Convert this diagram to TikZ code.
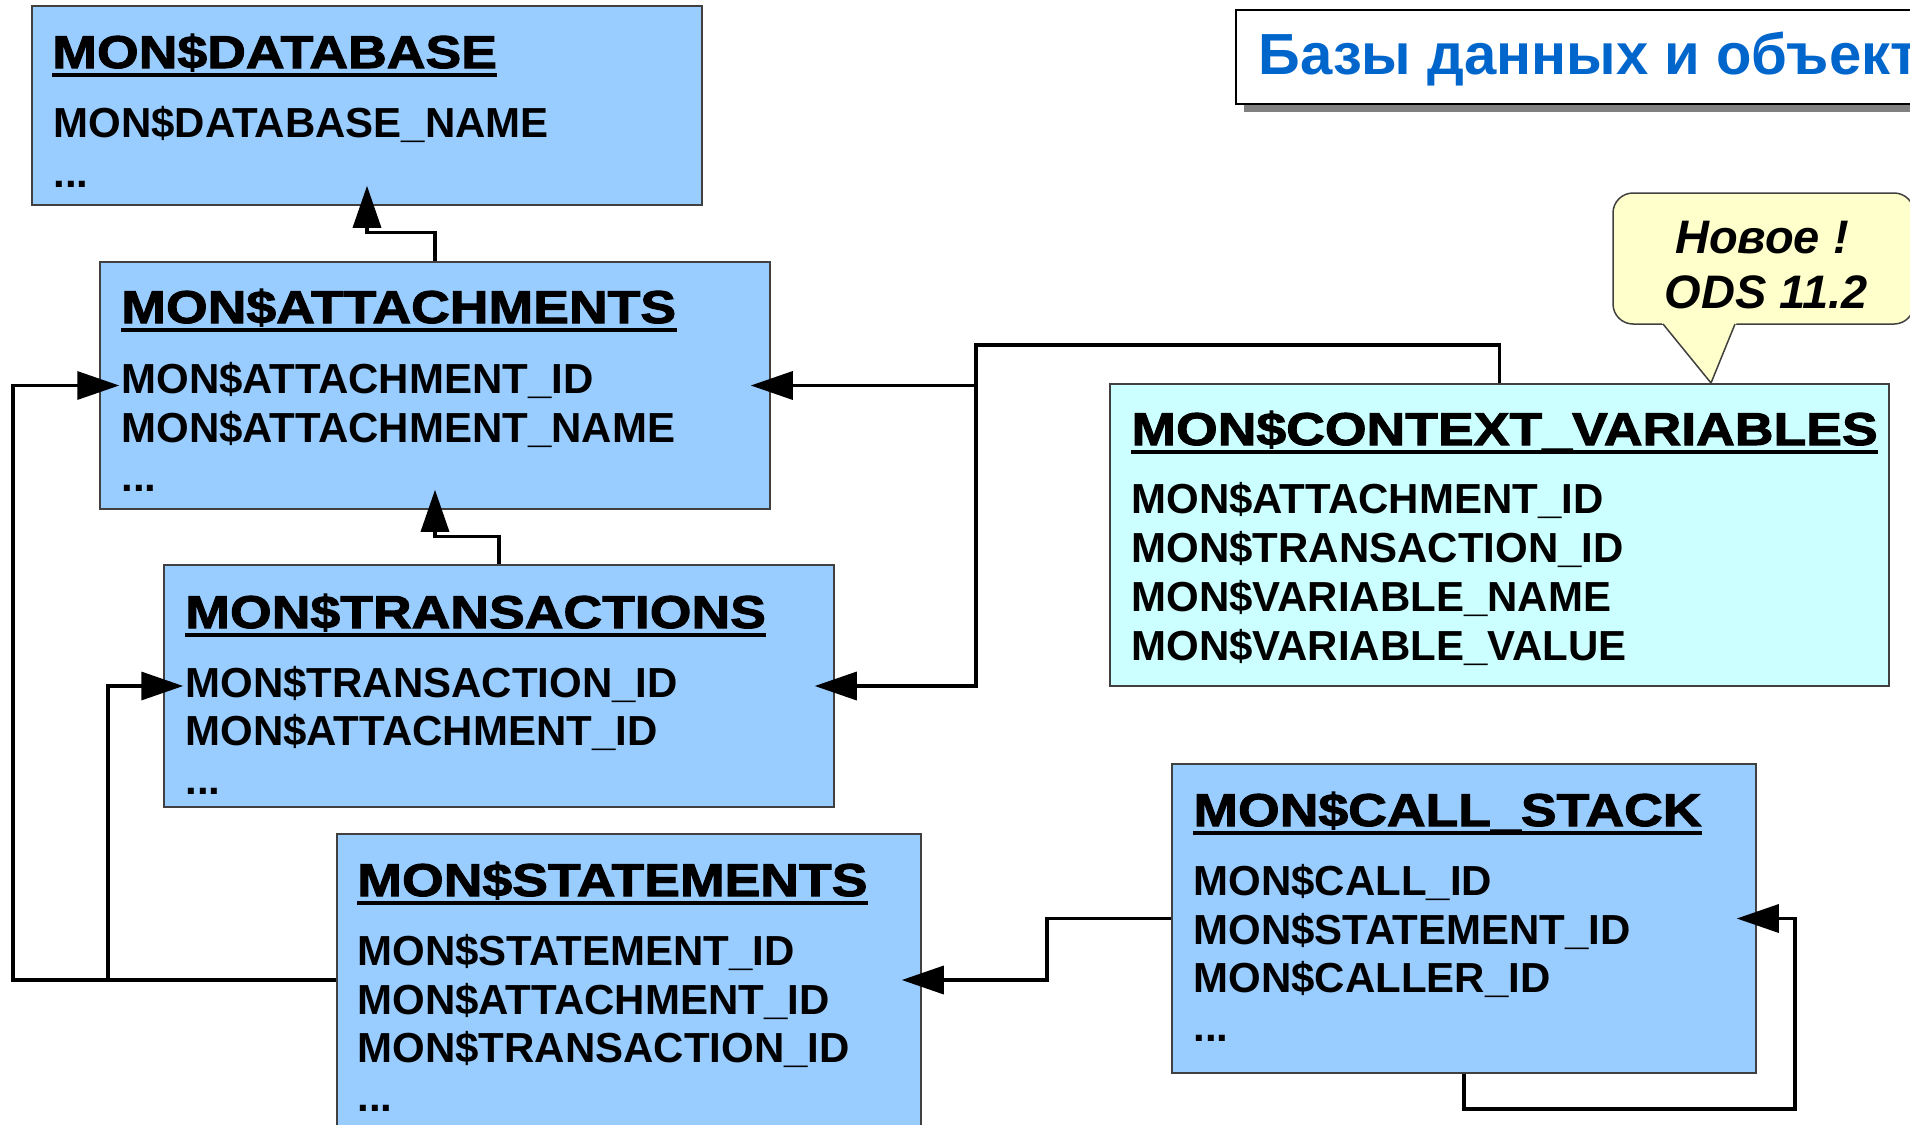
\documentclass[tikz,border=0pt]{standalone}
\usepackage{fontspec}
\setmainfont{Liberation Sans}
\newfontfamily\ttlfont{Liberation Sans}[FakeStretch=1.165,FakeBold=2.2]
\usetikzlibrary{arrows.meta}
\definecolor{boxblue}{HTML}{99CCFF}
\definecolor{boxcyan}{HTML}{CCFFFF}
\definecolor{callfill}{HTML}{FFFFCC}
\definecolor{bannerblue}{HTML}{0066CC}
\definecolor{shadowgray}{HTML}{808080}
\definecolor{edgegray}{HTML}{404040}
\tikzset{
  tbl/.style={draw=edgegray, line width=0.75pt, fill=boxblue, inner sep=0pt},
  ttl/.style={anchor=base west, inner sep=0pt, font=\ttlfont\bfseries\fontsize{23}{27}\selectfont},
  fld/.style={anchor=base west, inner sep=0pt, font=\bfseries\fontsize{21}{25}\selectfont},
  conn/.style={line width=1.7pt, -{Triangle[length=21pt,width=14pt]}, shorten >=-10pt},
  uline/.style={line width=1.6pt},
  calltext/.style={anchor=base, inner sep=0pt, font=\bfseries\itshape\fontsize{23.5}{27}\selectfont},
}
\newcommand\tbltitle[4]{%
  \node[ttl] (#1) at (#2,#3) {#4};
  \draw[uline] ([yshift=-3.5pt]#1.base west) -- ([yshift=-3.5pt]#1.base east);}
\begin{document}
\begin{tikzpicture}[x=0.5pt,y=-0.5pt]
\useasboundingbox (0,0) rectangle (1910,1124);
\begin{scope}
\clip (0,0) rectangle (1910,1124);
% banner
\fill[shadowgray] (1244,18) rectangle (1940,112);
\draw[line width=0.75pt, fill=white] (1236,10) rectangle (1932,104);
\node[anchor=base west, inner sep=0pt, text=bannerblue, font=\bfseries\fontsize{29}{34}\selectfont] (ban) at (1258,74) {Базы данных и объект};
% callout
\draw[draw=edgegray, line width=0.75pt, fill=callfill, rounded corners=10pt] (1613,193) rectangle (1914,324);
\fill[callfill] (1661,322) -- (1737,322) -- (1711,383) -- cycle;
\draw[edgegray, line width=0.75pt] (1663,324) -- (1711,383) -- (1735,324);
\node[calltext] (new1) at (1762,253) {Новое !};
\node[calltext] (new2) at (1766,308) {ODS 11.2};
% tables
\node[tbl, minimum width=335pt, minimum height=99.5pt] (db) at (367,105.5) {};
\node[tbl, minimum width=335pt, minimum height=123.5pt] (att) at (435,385.5) {};
\node[tbl, minimum width=335pt, minimum height=121pt] (trans) at (499,686) {};
\node[tbl, minimum width=292pt, minimum height=146pt] (stmt) at (629,980) {};
\node[tbl, fill=boxcyan, minimum width=389.5pt, minimum height=151pt] (cv) at (1499.5,535) {};
\node[tbl, minimum width=292pt, minimum height=154.5pt] (cs) at (1464,918.5) {};
% texts
\tbltitle{dbt}{52}{68}{MON\$DATABASE}
\node[fld] (db1) at (53,137) {MON\$DATABASE\_NAME};
\node[fld] (db2) at (53,187) {...};
\tbltitle{attt}{121}{323}{MON\$ATTACHMENTS}
\node[fld] (att1) at (121,393) {MON\$ATTACHMENT\_ID};
\node[fld] (att2) at (121,442) {MON\$ATTACHMENT\_NAME};
\node[fld] (att3) at (121,491) {...};
\tbltitle{trt}{185}{628}{MON\$TRANSACTIONS}
\node[fld] (tr1) at (185,697) {MON\$TRANSACTION\_ID};
\node[fld] (tr2) at (185,745) {MON\$ATTACHMENT\_ID};
\node[fld] (tr3) at (185,794) {...};
\tbltitle{stt}{357}{896}{MON\$STATEMENTS}
\node[fld] (st1) at (357,965) {MON\$STATEMENT\_ID};
\node[fld] (st2) at (357,1014) {MON\$ATTACHMENT\_ID};
\node[fld] (st3) at (357,1062) {MON\$TRANSACTION\_ID};
\node[fld] (st4) at (357,1111) {...};
\tbltitle{cvt}{1131}{445}{MON\$CONTEXT\_VARIABLES}
\node[fld] (cv1) at (1131,513) {MON\$ATTACHMENT\_ID};
\node[fld] (cv2) at (1131,562) {MON\$TRANSACTION\_ID};
\node[fld] (cv3) at (1131,611) {MON\$VARIABLE\_NAME};
\node[fld] (cv4) at (1131,660) {MON\$VARIABLE\_VALUE};
\tbltitle{cst}{1193}{826}{MON\$CALL\_STACK}
\node[fld] (cs1) at (1193,895) {MON\$CALL\_ID};
\node[fld] (cs2) at (1193,944) {MON\$STATEMENT\_ID};
\node[fld] (cs3) at (1193,992) {MON\$CALLER\_ID};
\node[fld] (cs4) at (1193,1041) {...};
% connectors
\coordinate (j1) at (976,345);
\coordinate (r1) at (13,700);
\coordinate (r2) at (108,800);
\coordinate (r3) at (1047,950);
\coordinate (r4) at (1795,1109);
\draw[conn] (att.north) -- ++(0,-29) -| (db.south);
\draw[conn] (trans.north) -- ++(0,-28) -| (att.south);
\draw[conn] (cv.north) |- (j1) |- (att.east);
\draw[conn] (cv.north) |- (j1) |- (trans.east);
\draw[conn] (stmt.west) -| (r1) |- (att.west);
\draw[conn] (stmt.west) -| (r2) |- (trans.west);
\draw[conn] (cs.west) -| (r3) |- (stmt.east);
\draw[conn] (cs.south) |- (r4) |- (cs.east);
\end{scope}
\end{tikzpicture}
\end{document}
